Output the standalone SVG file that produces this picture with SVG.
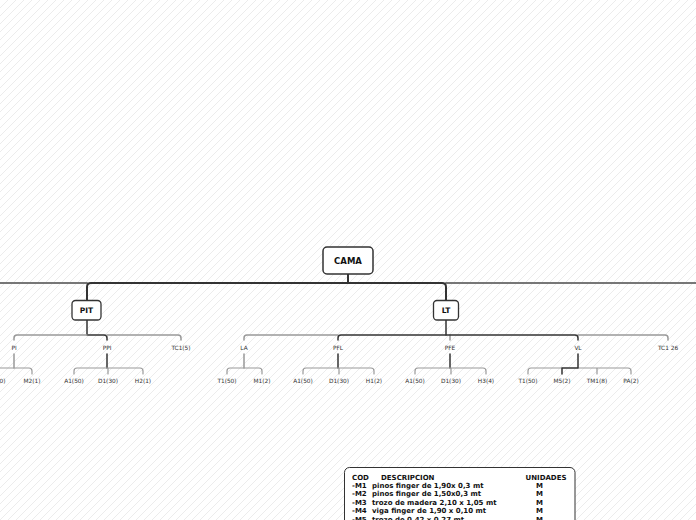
<svg xmlns="http://www.w3.org/2000/svg" width="696" height="520" viewBox="0 0 696 520">
<defs>
<pattern id="hatch" patternUnits="userSpaceOnUse" width="8" height="8">
<path d="M-1 1 L1 -1 M0 8 L8 0 M7 9 L9 7" stroke="#ececec" stroke-width="1"/>
</pattern>
<style>
.c{fill:none;stroke-linecap:round;stroke-linejoin:round}
.dk{stroke:#333}
.gy{stroke:#999}
.w2{stroke-width:2}
.w15{stroke-width:1.5}
.w1{stroke-width:1.2}
.node{fill:#fff;stroke:#333;stroke-width:1.3}
.nt{font-family:"DejaVu Sans","Verdana",sans-serif;font-weight:bold;fill:#111;text-anchor:middle}
.lb{font-family:"DejaVu Sans","Verdana",sans-serif;font-size:5.8px;fill:#333;text-anchor:middle}
.tb{font-family:"DejaVu Sans","Verdana",sans-serif;font-size:7px;font-weight:bold;fill:#111}
.m{text-anchor:middle}
</style>
</defs>
<rect width="696" height="520" fill="#fff"/>
<rect width="696" height="520" fill="url(#hatch)"/>

<g id="connectors">
<path class="c dk w2" d="M348 274 V283"/>
<path class="c gy w2" d="M0 283 H87 M446 283 H696" style="stroke:#777"/>
<path class="c dk w2" d="M87 300 V287 Q87 283 91 283 H442 Q446 283 446 287 V300"/>

<path class="c dk w15" d="M87 320 V335 H104 Q107 335 107 338 V340"/>
<path class="c gy w15" d="M14 340 V338 Q14 335 17 335 H87 M107 335 H178 Q181 335 181 338 V340"/>

<path class="c gy w15" d="M14 354 V368"/>
<path class="c gy w1" d="M-4 374 V371 Q-4 368 -1 368 H29 Q32 368 32 371 V374"/>

<path class="c dk w15" d="M107 354 V368"/>
<path class="c gy w1" d="M74 374 V371 Q74 368 77 368 H140 Q143 368 143 371 V374 M108 368 V374"/>

<path class="c dk w15" d="M446 320 V335"/>
<path class="c gy w15" d="M244 340 V338 Q244 335 247 335 H338 M450 335 V340 M578 335 H665 Q668 335 668 338 V340"/>
<path class="c dk w15" d="M338 340 V338 Q338 335 341 335 H575 Q578 335 578 338 V340"/>

<path class="c gy w15" d="M244 354 V368"/>
<path class="c gy w1" d="M227 374 V371 Q227 368 230 368 H259 Q262 368 262 371 V374"/>

<path class="c dk w15" d="M338 354 V368"/>
<path class="c gy w1" d="M303 374 V371 Q303 368 306 368 H371 Q374 368 374 371 V374 M339 368 V374"/>

<path class="c dk w15" d="M450 354 V368"/>
<path class="c gy w1" d="M415 374 V371 Q415 368 418 368 H483 Q486 368 486 371 V374 M451 368 V374"/>

<path class="c gy w1" d="M528 374 V371 Q528 368 531 368 H562 M578 368 H628 Q631 368 631 371 V374 M597 368 V374"/>
<path class="c dk w15" d="M578 354 V368 H562 V374"/>
</g>

<g id="CAMA">
<rect class="node" x="323" y="247" width="50" height="27" rx="4" style="stroke-width:1.5"/>
<text class="nt" x="348" y="264" font-size="8.5">CAMA</text>
</g>
<g id="PIT">
<rect class="node" x="72" y="300.5" width="29" height="19.5" rx="3.5"/>
<text class="nt" x="86.5" y="313.3" font-size="7.5">PIT</text>
</g>
<g id="LT">
<rect class="node" x="433.5" y="300.5" width="25" height="19.5" rx="3.5"/>
<text class="nt" x="446" y="313.3" font-size="7.5">LT</text>
</g>

<g id="PI"><text class="lb" x="14" y="349.8">PI</text></g>
<g id="PPI"><text class="lb" x="107" y="349.8">PPI</text></g>
<g id="TC1_5"><text class="lb" x="181" y="349.8">TC1(5)</text></g>
<g id="LA"><text class="lb" x="244" y="349.8">LA</text></g>
<g id="PFL"><text class="lb" x="338" y="349.8">PFL</text></g>
<g id="PFE"><text class="lb" x="450" y="349.8">PFE</text></g>
<g id="VL"><text class="lb" x="578" y="349.8">VL</text></g>
<g id="TC1_26"><text class="lb" x="668" y="349.8">TC1 26</text></g>

<g id="PI_T1"><text class="lb" x="-4" y="383">T1(50)</text></g>
<g id="PI_M2"><text class="lb" x="32" y="383">M2(1)</text></g>
<g id="PPI_A1"><text class="lb" x="74" y="383">A1(50)</text></g>
<g id="PPI_D1"><text class="lb" x="108" y="383">D1(30)</text></g>
<g id="PPI_H2"><text class="lb" x="143" y="383">H2(1)</text></g>
<g id="LA_T1"><text class="lb" x="227" y="383">T1(50)</text></g>
<g id="LA_M1"><text class="lb" x="262" y="383">M1(2)</text></g>
<g id="PFL_A1"><text class="lb" x="303" y="383">A1(50)</text></g>
<g id="PFL_D1"><text class="lb" x="339" y="383">D1(30)</text></g>
<g id="PFL_H1"><text class="lb" x="374" y="383">H1(2)</text></g>
<g id="PFE_A1"><text class="lb" x="415" y="383">A1(50)</text></g>
<g id="PFE_D1"><text class="lb" x="451" y="383">D1(30)</text></g>
<g id="PFE_H3"><text class="lb" x="486" y="383">H3(4)</text></g>
<g id="VL_T1"><text class="lb" x="528" y="383">T1(50)</text></g>
<g id="VL_M5"><text class="lb" x="562" y="383">M5(2)</text></g>
<g id="VL_TM1"><text class="lb" x="597" y="383">TM1(8)</text></g>
<g id="VL_PA"><text class="lb" x="631" y="383">PA(2)</text></g>

<g id="legend">
<rect x="344.5" y="467.5" width="230.5" height="70" rx="5" fill="#fff" stroke="#333" stroke-width="1"/>
<text class="tb" x="352" y="479.5">COD</text>
<text class="tb" x="381" y="479.5">DESCRIPCION</text>
<text class="tb m" x="546" y="479.5">UNIDADES</text>
<text class="tb" x="352" y="488">-M1</text><text class="tb" x="372" y="488">pinos finger de 1,90x 0,3 mt</text><text class="tb m" x="539.5" y="488">M</text>
<text class="tb" x="352" y="496.4">-M2</text><text class="tb" x="372" y="496.4">pinos finger de 1,50x0,3 mt</text><text class="tb m" x="539.5" y="496.4">M</text>
<text class="tb" x="352" y="504.8">-M3</text><text class="tb" x="372" y="504.8">trozo de madera 2,10 x 1,05 mt</text><text class="tb m" x="539.5" y="504.8">M</text>
<text class="tb" x="352" y="513.2">-M4</text><text class="tb" x="372" y="513.2">viga finger de 1,90 x 0,10 mt</text><text class="tb m" x="539.5" y="513.2">M</text>
<text class="tb" x="352" y="521.6">-M5</text><text class="tb" x="372" y="521.6">trozo de 0,42 x 0,27 mt</text><text class="tb m" x="539.5" y="521.6">M</text>
</g>
</svg>
